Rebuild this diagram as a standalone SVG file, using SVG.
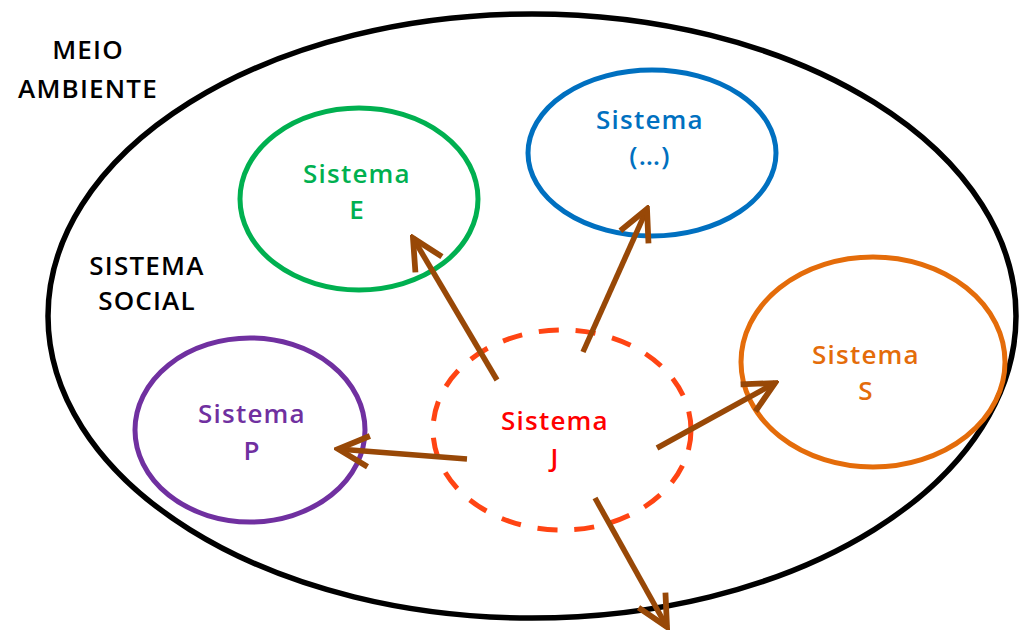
<svg xmlns="http://www.w3.org/2000/svg" width="1020" height="630" viewBox="0 0 1020 630">
<defs>
<style>
text{font-family:"Open Sans","Liberation Sans",sans-serif;font-size:26px;font-weight:600;text-anchor:middle;letter-spacing:1.2px}
.ring{fill:none;stroke-width:5}
.arr{stroke:#984807;stroke-width:5.5;fill:none;marker-end:url(#ah)}
</style>
<marker id="ah" viewBox="0 0 10 10" refX="9" refY="5" markerWidth="7" markerHeight="7" orient="auto" markerUnits="strokeWidth">
<path d="M1,1 L9,5 L1,9" fill="none" stroke="#984807" stroke-width="1.5" stroke-linejoin="miter"/>
</marker>
</defs>
<rect width="1020" height="630" fill="#fff"/>
<g id="meio-ambiente">
<ellipse cx="532" cy="316" rx="484" ry="302" fill="none" stroke="#000" stroke-width="5.5"/>
<text x="88" y="59" fill="#000">MEIO</text>
<text x="88" y="98" fill="#000">AMBIENTE</text>
</g>
<g id="sistema-social">
<text x="147" y="275" fill="#000">SISTEMA</text>
<text x="147" y="310" fill="#000">SOCIAL</text>
</g>
<g id="sistema-e">
<ellipse class="ring" cx="359" cy="199" rx="119" ry="91" stroke="#00B050"/>
<text x="357" y="183" fill="#00B050">Sistema</text>
<text x="357" y="219" fill="#00B050">E</text>
</g>
<g id="sistema-etc">
<ellipse class="ring" cx="652" cy="153" rx="124" ry="83" stroke="#0070C0"/>
<text x="650" y="129" fill="#0070C0">Sistema</text>
<text x="650" y="165" fill="#0070C0">(…)</text>
</g>
<g id="sistema-s">
<ellipse class="ring" cx="873" cy="362" rx="132" ry="105" stroke="#E46C0A"/>
<text x="866" y="364" fill="#E46C0A">Sistema</text>
<text x="866" y="400" fill="#E46C0A">S</text>
</g>
<g id="sistema-p">
<ellipse class="ring" cx="250" cy="430" rx="115" ry="92" stroke="#7030A0"/>
<text x="252" y="423" fill="#7030A0">Sistema</text>
<text x="252" y="460" fill="#7030A0">P</text>
</g>
<g id="sistema-j">
<ellipse class="ring" cx="562" cy="430" rx="129" ry="100" stroke="#FF4413" stroke-dasharray="20 17"/>
<text x="555" y="430" fill="#FF0000">Sistema</text>
<text x="555" y="467" fill="#FF0000">J</text>
</g>
<g id="connectors">
<line class="arr" x1="497" y1="380" x2="413" y2="238"/>
<line class="arr" x1="583" y1="352" x2="647" y2="209"/>
<line class="arr" x1="657" y1="448" x2="775" y2="383"/>
<line class="arr" x1="467" y1="459" x2="338" y2="449"/>
<line class="arr" x1="595" y1="498" x2="667" y2="627"/>
</g>
</svg>
